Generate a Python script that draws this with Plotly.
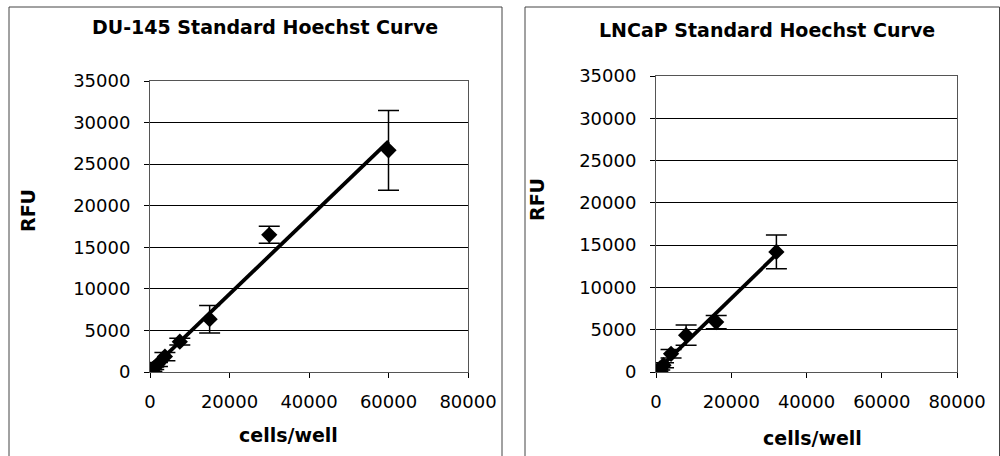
import numpy as np
import plotly.graph_objects as go

# DU-145 standard curve (mean RFU +/- SD per cell density)
du145_cells = [0, 469, 938, 1875, 3750, 7500, 15000, 30000, 60000]
du145_rfu = [0, 220, 450, 900, 1850, 3650, 6350, 16500, 26660]
du145_sd = [60, 120, 150, 250, 500, 400, 1650, 1020, 4800]

# LNCaP standard curve
lncap_cells = [0, 500, 1000, 2000, 4000, 8000, 16000, 32000]
lncap_rfu = [0, 200, 400, 800, 2150, 4350, 5900, 14200]
lncap_sd = [50, 100, 150, 300, 500, 1200, 780, 2000]

x_ticks = [0, 20000, 40000, 60000, 80000]
y_ticks = [0, 5000, 10000, 15000, 20000, 25000, 30000, 35000]

W, H = 1000, 456
TICK_FONT = dict(family="DejaVu Sans", size=18, color="black")
BOLD = "DejaVu Sans"


def px(x):
    return x / W


def py(y):
    return 1 - y / H


fig = go.Figure()


def add_curve(cells, rfu, sd, xa, ya):
    c = np.asarray(cells, dtype=float)
    r = np.asarray(rfu, dtype=float)
    slope, intercept = np.polyfit(c, r, 1)
    fit_x = np.array([c.min(), c.max()])
    fit_y = slope * fit_x + intercept
    fig.add_trace(go.Scatter(
        x=fit_x, y=fit_y, mode="lines", xaxis=xa, yaxis=ya,
        line=dict(color="black", width=3.8), showlegend=False,
        hoverinfo="skip"))
    fig.add_trace(go.Scatter(
        x=cells, y=rfu, mode="markers", xaxis=xa, yaxis=ya,
        marker=dict(symbol="diamond", size=12.5, color="black"),
        error_y=dict(type="data", array=sd, visible=True,
                     color="black", thickness=1.5, width=10.5),
        showlegend=False))


add_curve(du145_cells, du145_rfu, du145_sd, "x", "y")
add_curve(lncap_cells, lncap_rfu, lncap_sd, "x2", "y2")

xaxis_common = dict(
    range=[0, 80000], tickvals=x_ticks, ticktext=[str(v) for v in x_ticks],
    showgrid=False, zeroline=False, showline=True, mirror=True,
    linecolor="#555", linewidth=1, ticks="outside", ticklen=5,
    tickcolor="black", tickfont=TICK_FONT, ticklabelstandoff=8,
    automargin=False,
)
yaxis_common = dict(
    range=[0, 35000], tickvals=y_ticks, ticktext=[str(v) for v in y_ticks],
    showgrid=True, gridcolor="black", gridwidth=1, zeroline=False,
    showline=True, mirror=True, linecolor="#555", linewidth=1,
    ticks="outside", ticklen=5, tickcolor="black", tickfont=TICK_FONT,
    ticklabelstandoff=10, automargin=False,
)

fig.update_layout(
    width=W, height=H,
    margin=dict(l=0, r=0, t=0, b=0, autoexpand=False),
    paper_bgcolor="white", plot_bgcolor="white",
    xaxis=dict(domain=[px(150), px(468)], anchor="y", **xaxis_common),
    yaxis=dict(domain=[py(372), py(81)], anchor="x", **yaxis_common),
    xaxis2=dict(domain=[px(656), px(957)], anchor="y2", **xaxis_common),
    yaxis2=dict(domain=[py(372), py(76)], anchor="x2", **yaxis_common),
)

annotations = [
    dict(text="<b>DU-145 Standard Hoechst Curve</b>", x=px(265), y=py(27)),
    dict(text="<b>LNCaP Standard Hoechst Curve</b>", x=px(767), y=py(30)),
    dict(text="<b>RFU</b>", x=px(28), y=py(211), textangle=-90),
    dict(text="<b>RFU</b>", x=px(537), y=py(200), textangle=-90),
    dict(text="<b>cells/well</b>", x=px(288), y=py(435)),
    dict(text="<b>cells/well</b>", x=px(812), y=py(438)),
]
for a in annotations:
    fig.add_annotation(xref="paper", yref="paper", showarrow=False,
                       xanchor="center", yanchor="middle",
                       font=dict(family=BOLD, size=19, color="black"), **a)

# chart-area frames around each panel (open at the bottom edge)
frame = dict(type="line", xref="paper", yref="paper",
             line=dict(color="#444", width=1))
for x0, x1 in [(9, 502), (525, 999.5)]:
    fig.add_shape(x0=px(x0), x1=px(x1), y0=py(7), y1=py(7), **frame)
    fig.add_shape(x0=px(x0), x1=px(x0), y0=py(7), y1=0, **frame)
    fig.add_shape(x0=px(x1), x1=px(x1), y0=py(7), y1=0, **frame)

fig.write_html("out.html")
